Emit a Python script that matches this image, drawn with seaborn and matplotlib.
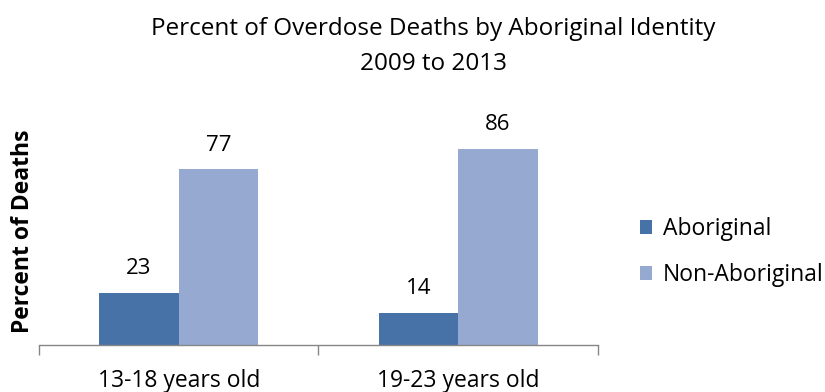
import matplotlib
matplotlib.use("Agg")
import matplotlib.pyplot as plt
import seaborn as sns
import pandas as pd

# Chart data
age_groups = ["13-18 years old", "19-23 years old"]
identities = ["Aboriginal", "Non-Aboriginal"]
aboriginal_pct = [23, 14]
non_aboriginal_pct = [77, 86]

colors = {"Aboriginal": "#4672A8", "Non-Aboriginal": "#95A9D1"}

df = pd.DataFrame({
    "age": age_groups * 2,
    "identity": [identities[0]] * len(age_groups) + [identities[1]] * len(age_groups),
    "pct": aboriginal_pct + non_aboriginal_pct,
})

sns.set_style("white")
plt.rcParams["font.family"] = ["Open Sans", "DejaVu Sans"]
plt.rcParams["text.color"] = "black"
plt.rcParams["axes.labelcolor"] = "black"
plt.rcParams["xtick.color"] = "black"

fig = plt.figure(figsize=(8.25, 3.92), dpi=100)
ax = fig.add_axes([0.0473, 0.1199, 0.6775, 0.5816])

sns.barplot(data=df, x="age", y="pct", hue="identity", order=age_groups,
            hue_order=identities, palette=colors, width=0.57, saturation=1,
            linewidth=0, ax=ax)

for cont in ax.containers:
    ax.bar_label(cont, fmt="%d", padding=10, fontsize=16, color="black")

ax.set_ylim(0, 100)
ax.set_xlim(-0.5, 1.5)
ax.set_yticks([])
ax.set_xlabel("")
ax.set_ylabel("Percent of Deaths", fontsize=16.5, fontweight="bold", labelpad=3)

ax.set_xticks([0, 1])
ax.set_xticklabels(age_groups, fontsize=16.5)
ax.tick_params(axis="x", which="major", length=0, pad=17, labelcolor="black")
ax.set_xticks([-0.5, 0.5, 1.5], minor=True)
ax.tick_params(axis="x", which="minor", bottom=True, length=7, width=1,
               color="#868686", direction="out")

for side in ["top", "right", "left"]:
    ax.spines[side].set_visible(False)
ax.spines["bottom"].set_color("#868686")
ax.spines["bottom"].set_linewidth(1)

fig.suptitle("Percent of Overdose Deaths by Aboriginal Identity\n2009 to 2013",
             fontsize=17.5, y=0.882, va="center", x=0.525, linespacing=1.6,
             color="black")

leg = ax.legend(loc="center left", bbox_to_anchor=(1.075, 0.408), frameon=False,
                fontsize=16.5, handlelength=0.55, handleheight=0.55,
                handletextpad=0.45, labelspacing=0.95, borderpad=0,
                borderaxespad=0)
for t in leg.get_texts():
    t.set_color("black")

fig.savefig("out.png", dpi=100)
